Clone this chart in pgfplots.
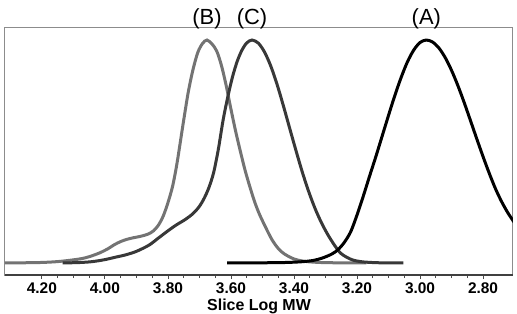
\documentclass[border=0pt]{standalone}
\usepackage{pgfplots}
\pgfplotsset{compat=1.18}
\usepackage{fontspec}
\setmainfont{Liberation Sans}

% Slice Log MW vs. normalised detector response
\pgfplotstableread{
x y
4.317 0.000
4.206 0.002
4.143 0.007
4.080 0.018
4.050 0.028
4.017 0.045
3.990 0.064
3.970 0.082
3.950 0.096
3.930 0.106
3.910 0.113
3.895 0.117
3.880 0.122
3.862 0.130
3.845 0.145
3.830 0.170
3.815 0.210
3.800 0.270
3.785 0.345
3.772 0.440
3.762 0.530
3.750 0.640
3.735 0.770
3.720 0.870
3.705 0.945
3.690 0.985
3.676 1.000
3.660 0.982
3.645 0.950
3.630 0.885
3.615 0.795
3.600 0.690
3.585 0.590
3.570 0.500
3.555 0.415
3.540 0.342
3.525 0.275
3.510 0.220
3.490 0.160
3.470 0.105
3.450 0.065
3.430 0.040
3.400 0.018
3.370 0.008
3.330 0.003
3.280 0.001
3.170 0.000
}\seriesB

\pgfplotstableread{
x y
4.134 0.000
4.080 0.002
4.040 0.006
4.000 0.015
3.963 0.027
3.935 0.036
3.900 0.052
3.860 0.080
3.830 0.112
3.800 0.144
3.774 0.170
3.745 0.195
3.720 0.222
3.700 0.254
3.685 0.290
3.670 0.338
3.655 0.405
3.640 0.510
3.625 0.640
3.610 0.745
3.595 0.835
3.580 0.905
3.565 0.955
3.550 0.987
3.533 1.000
3.513 0.986
3.493 0.945
3.473 0.881
3.453 0.798
3.433 0.702
3.413 0.601
3.393 0.501
3.373 0.405
3.353 0.319
3.333 0.244
3.313 0.181
3.293 0.128
3.273 0.083
3.253 0.045
3.233 0.026
3.213 0.013
3.183 0.005
3.133 0.001
3.053 0.000
}\seriesC

\pgfplotstableread{
x y
3.612 0.000
3.480 0.001
3.430 0.002
3.380 0.005
3.340 0.011
3.310 0.022
3.280 0.040
3.260 0.060
3.240 0.093
3.220 0.140
3.200 0.215
3.180 0.300
3.160 0.390
3.140 0.478
3.120 0.570
3.100 0.662
3.080 0.751
3.060 0.832
3.040 0.902
3.020 0.955
3.000 0.989
2.980 1.000
2.960 0.991
2.940 0.964
2.920 0.921
2.900 0.864
2.880 0.796
2.860 0.720
2.840 0.639
2.820 0.557
2.800 0.477
2.780 0.401
2.760 0.331
2.740 0.272
2.720 0.222
2.700 0.180
}\seriesA

\begin{document}
\begin{tikzpicture}
\begin{axis}[
  scale only axis,
  width=508bp, height=247bp,
  x dir=reverse,
  xmin=2.705, xmax=4.317,
  ymin=-0.054, ymax=1.054,
  ytick=\empty,
  xtick={2.8,3.0,3.2,3.4,3.6,3.8,4.0,4.2},
  minor x tick num=3,
  xtick pos=bottom,
  tick align=outside,
  major tick length=4bp,
  minor tick length=3bp,
  tick style={black!70, line width=0.8bp},
  axis line style={black!45, line width=1bp},
  xticklabel style={/pgf/number format/.cd, fixed, fixed zerofill, precision=2, assume math mode=true},
  xticklabel={\bfseries\fontsize{15.5}{15.5}\selectfont\pgfmathprintnumber{\tick}},
  xlabel={\bfseries\fontsize{16}{16}\selectfont Slice Log MW},
  xlabel style={yshift=1bp},
  clip mode=individual,
]
\addplot[draw=black!55, line width=3bp, smooth, tension=0.5] table {\seriesB};
\addplot[draw=black!78, line width=3bp, smooth, tension=0.5] table {\seriesC};
\addplot[draw=black, line width=3bp, smooth, tension=0.5] table {\seriesA};
\draw[black!75, line width=1.2bp] (rel axis cs:0,0) -- (rel axis cs:1,0);
\node[anchor=base, font=\fontsize{22}{22}\selectfont, yshift=3bp] at (axis cs:3.676,1.054) {(B)};
\node[anchor=base, font=\fontsize{22}{22}\selectfont, yshift=3bp] at (axis cs:3.533,1.054) {(C)};
\node[anchor=base, font=\fontsize{22}{22}\selectfont, yshift=3bp] at (axis cs:2.980,1.054) {(A)};
\end{axis}
\pgfresetboundingbox
\path ([shift={(-5bp,-39bp)}]current axis.south west) rectangle ([shift={(4bp,28bp)}]current axis.north east);
\end{tikzpicture}
\end{document}
